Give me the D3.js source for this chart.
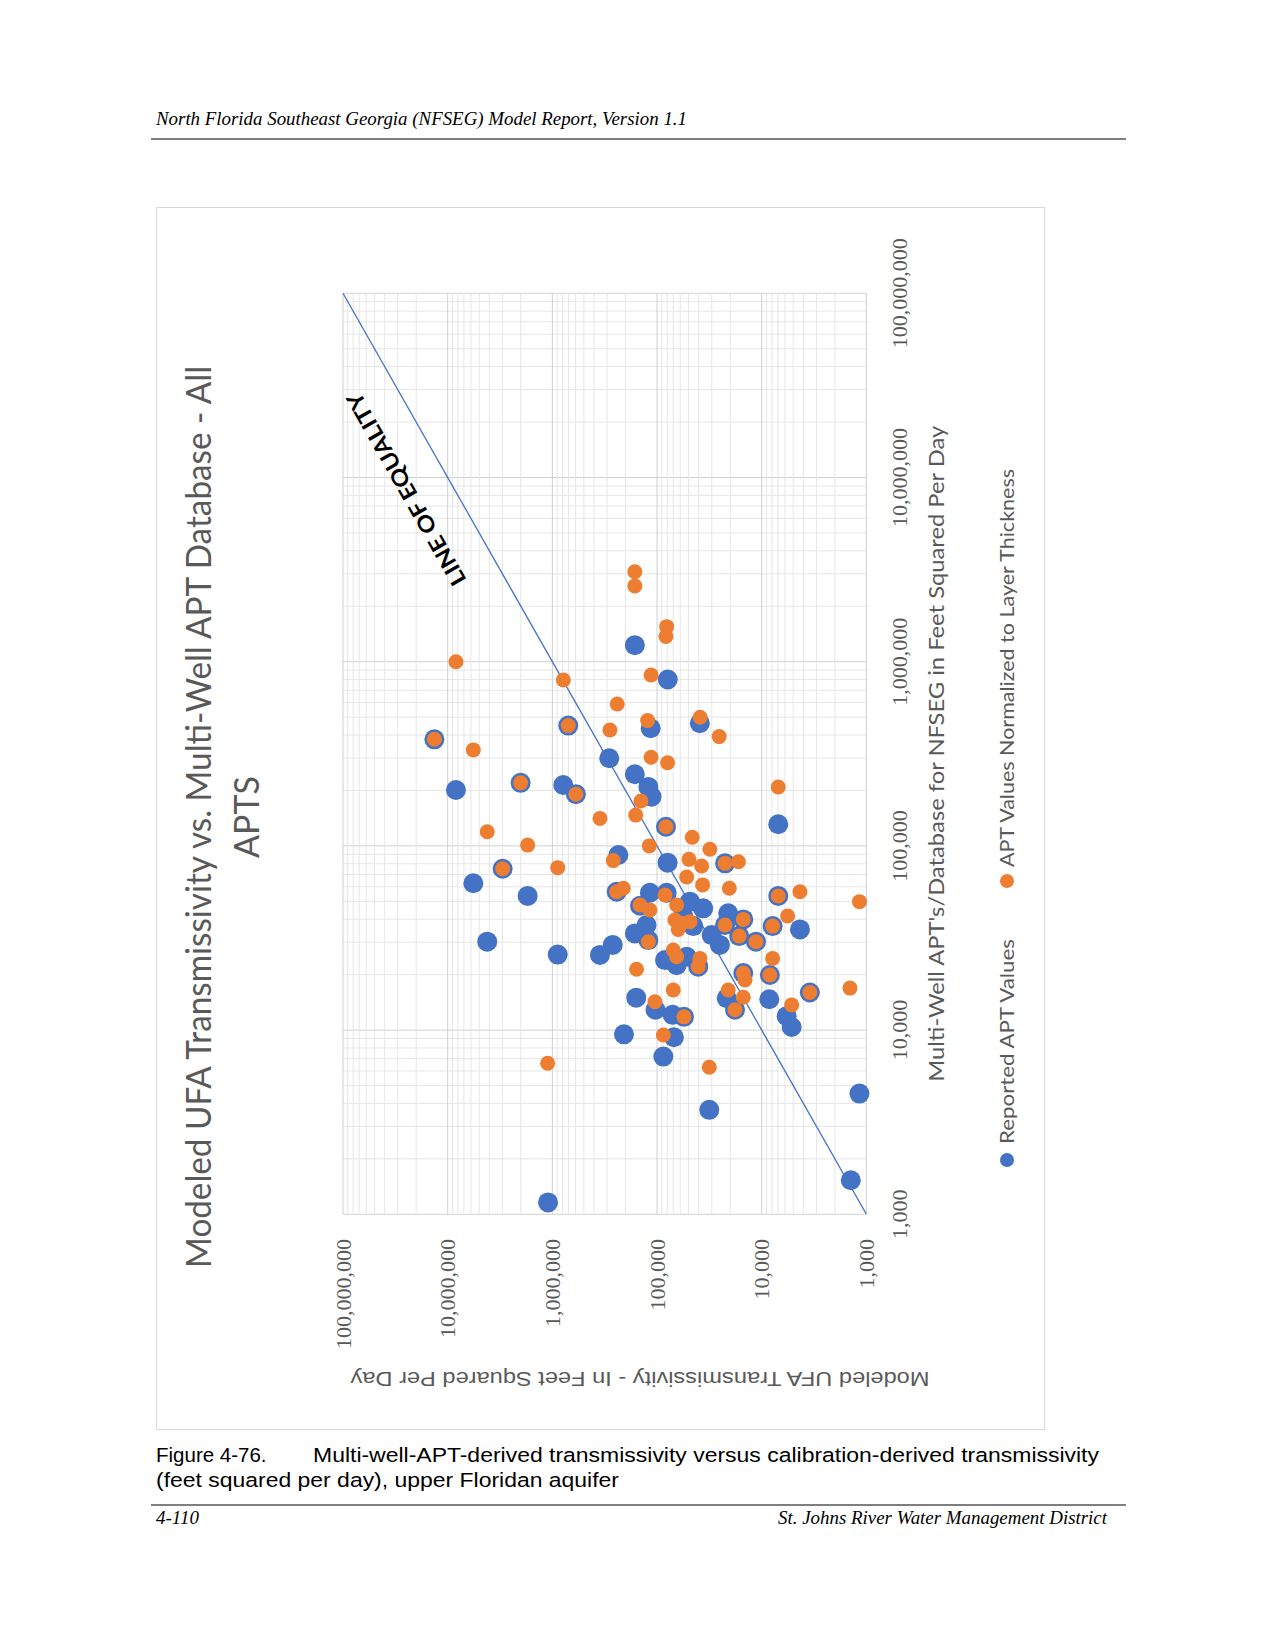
<!DOCTYPE html>
<html>
<head>
<meta charset="utf-8">
<script src="https://cdn.jsdelivr.net/npm/d3@7"></script>
<style>body{margin:0;background:#fff}</style>
</head>
<body>
<script>
// values, feet squared per day
// blue series: Reported APT Values  [APT value, modeled value] kept in two parallel lists
const reportedAPT = [1230000, 800000, 435000, 463000, 379000, 450000, 299000, 245000, 209000, 185000,
  201000, 220000, 214000, 191000, 131000, 127000, 89300, 81100, 80400, 75200,
  62700, 53500, 56400, 55700, 55700, 49800, 45800, 47300, 53500, 36700,
  35200, 43100, 39900, 37200, 41300, 36700, 37200, 33500, 30800, 32800,
  29000, 32400, 30200, 30200, 25700, 29000, 25600, 24000, 22500, 25000,
  22100, 20400, 19900, 16000, 15000, 12900, 12100, 11800, 14900, 12900,
  14700, 11900, 10400, 9480, 9140, 7180, 3690, 4520, 1530, 1160];
const reportedModeled = [163000, 79000, 115000, 39000, 13400000, 705000, 286000, 163000, 121000, 113000,
  8340000, 2010000, 787000, 596000, 6950, 82200, 234000, 79300, 22400, 2985000,
  5690000, 1722000, 243000, 117000, 80900, 48500, 36200, 145500, 6950, 7870,
  4315, 20900, 15000, 22400, 56200, 45100, 126000, 163000, 121000, 30100,
  25100, 16400, 11350, 4190000, 889000, 265000, 351000, 83900, 65000, 52100,
  40400, 15000, 8360, 3470, 158000, 103500, 71000, 55300, 21600, 18000,
  8470, 5780, 5180, 207000, 69000, 87100, 31700, 1165, 1410, 1100000];

// orange series: APT Values Normalized to Layer Thickness
const normalizedAPT = [3080000, 2580000, 1550000, 1370000, 1000000, 796000, 847000, 589000, 479000, 499000,
  379000, 450000, 426000, 392000, 332000, 303000, 283000, 220000, 191000, 175400,
  141000, 147000, 119400, 209000, 127000, 111400, 95900, 101000, 100000, 83200,
  84500, 77800, 80400, 82000, 75200, 76200, 67800, 61400, 58900, 56400,
  58900, 54100, 47800, 47800, 44900, 53500, 56400, 41600, 36700, 39900,
  37200, 39600, 38000, 38800, 35200, 30200, 32400, 30200, 27200, 21400,
  25000, 24500, 22100, 24500, 20400, 18700, 19900, 16000, 14260, 16500,
  11800, 16500, 15070, 12900, 13700, 9400, 6610, 6280, 49800, 16900];
const normalizedModeled = [163000, 163000, 80900, 82200, 8340000, 785000, 114000, 240000, 123000, 38800,
  13400000, 705000, 282000, 25500, 5690000, 114000, 79300, 2010000, 596000, 142600,
  351000, 160000, 4190000, 6950, 82200, 46100, 31300, 1722000, 118600, 262000,
  49500, 37500, 22400, 16700, 2985000, 889000, 52100, 36700, 20400, 243000,
  210000, 83900, 65000, 145500, 117000, 6950, 4315, 5660, 7870, 15000,
  22400, 67500, 58200, 48500, 62800, 121000, 16400, 11350, 70000, 157000,
  65000, 38900, 40400, 7870, 15000, 14450, 8360, 3470, 104700, 70000,
  55300, 20900, 15000, 18000, 5180, 87100, 1110000, 31700, 1165, 1435];

const tickValues = [1e3, 1e4, 1e5, 1e6, 1e7, 1e8];
const seriesNames = ["Reported APT Values", "APT Values Normalized to Layer Thickness"];
const seriesColors = ["#4472C4", "#ED7D31"];

const titleLines = ["Modeled UFA Transmissivity vs. Multi-Well APT Database - All", "APTS"];
const xTitle = "Multi-Well APT's/Database for NFSEG in Feet Squared Per Day";
const yTitle = "Modeled UFA Transmissivity  -  In Feet Squared Per Day";
const headerText = "North Florida Southeast Georgia (NFSEG) Model Report, Version 1.1";
const captionLabel = "Figure 4-76.";
const captionLines = ["Multi-well-APT-derived transmissivity versus calibration-derived transmissivity",
  "(feet squared per day), upper Floridan aquifer"];
const footerLeft = "4-110";
const footerRight = "St. Johns River Water Management District";

const [width, height] = [1275, 1651];
const fmt = d3.format(",");
const gray = "#595959";

const svg = d3.select("body").append("svg")
    .attr("xmlns", "http://www.w3.org/2000/svg")
    .attr("width", width)
    .attr("height", height)
    .attr("viewBox", [0, 0, width, height]);

svg.append("rect").attr("width", width).attr("height", height).attr("fill", "#fff");

// page header / footer
svg.append("text")
    .attr("x", 156).attr("y", 125)
    .attr("font-family", "Liberation Serif").attr("font-style", "italic").attr("font-size", 18)
    .attr("textLength", 531).attr("lengthAdjust", "spacingAndGlyphs")
    .text(headerText);
svg.append("line").attr("x1", 151).attr("x2", 1126).attr("y1", 139).attr("y2", 139)
    .attr("stroke", "#000").attr("stroke-width", 1.2);

const cap = svg.append("g").attr("font-family", "Liberation Sans").attr("font-size", 20.5).attr("fill", "#000");
cap.append("text").attr("x", 156).attr("y", 1462).text(captionLabel);
cap.append("text").attr("x", 313).attr("y", 1462)
    .attr("textLength", 786).attr("lengthAdjust", "spacingAndGlyphs").text(captionLines[0]);
cap.append("text").attr("x", 156).attr("y", 1487)
    .attr("textLength", 463).attr("lengthAdjust", "spacingAndGlyphs").text(captionLines[1]);

svg.append("line").attr("x1", 151).attr("x2", 1126).attr("y1", 1505).attr("y2", 1505)
    .attr("stroke", "#000").attr("stroke-width", 1.2);
const foot = svg.append("g").attr("font-family", "Liberation Serif").attr("font-style", "italic").attr("font-size", 19);
foot.append("text").attr("x", 156).attr("y", 1524).text(footerLeft);
foot.append("text").attr("x", 1107).attr("y", 1524).attr("text-anchor", "end")
    .attr("textLength", 329).attr("lengthAdjust", "spacingAndGlyphs").text(footerRight);

// chart box, the chart itself is turned a quarter turn counter-clockwise on the page
const [chartW, chartH] = [1222, 888];
svg.append("rect")
    .attr("x", 156.5).attr("y", 207.5).attr("width", chartH).attr("height", chartW)
    .attr("fill", "none").attr("stroke", "#d9d9d9");

const chart = svg.append("g").attr("transform", "translate(156,1429) rotate(-90)");

const plot = {left: 214.7, right: 1135.7, top: 187, bottom: 710.4};

const x = d3.scaleLog().domain([1e3, 1e8]).range([plot.left, plot.right]);
const y = d3.scaleLog().domain([1e3, 1e8]).range([plot.bottom, plot.top]);

const gridVals = d3.range(3, 8).flatMap(e => d3.range(1, 10).map(k => k * 10 ** e)).concat([1e8]);
const isMajor = v => Math.abs(Math.log10(v) - Math.round(Math.log10(v))) < 1e-9;
const gridOrder = gridVals.filter(v => !isMajor(v)).concat(gridVals.filter(isMajor));

const grid = chart.append("g").attr("stroke-width", 1);
grid.selectAll("line.gx")
    .data(gridOrder)
    .join("line")
        .attr("class", "gx")
        .attr("x1", d => x(d)).attr("x2", d => x(d))
        .attr("y1", plot.top).attr("y2", plot.bottom)
        .attr("stroke", d => isMajor(d) ? "#d0d0d0" : "#e6e6e6");
grid.selectAll("line.gy")
    .data(gridOrder)
    .join("line")
        .attr("class", "gy")
        .attr("y1", d => y(d)).attr("y2", d => y(d))
        .attr("x1", plot.left).attr("x2", plot.right)
        .attr("stroke", d => isMajor(d) ? "#d0d0d0" : "#e6e6e6");

// axes labels
chart.append("g")
    .attr("font-family", "Liberation Serif").attr("font-size", 22).attr("fill", gray)
    .attr("text-anchor", "middle")
    .selectAll("text").data(tickValues).join("text")
        .attr("x", d => x(d)).attr("y", 751)
        .text(d => fmt(d));
chart.append("g")
    .attr("font-family", "Liberation Serif").attr("font-size", 22).attr("fill", gray)
    .attr("text-anchor", "end")
    .selectAll("text").data(tickValues).join("text")
        .attr("x", 190).attr("y", d => y(d)).attr("dy", "0.35em")
        .text(d => fmt(d));

chart.append("text")
    .attr("x", (plot.left + plot.right) / 2).attr("y", 788)
    .attr("text-anchor", "middle").attr("font-family", "Lato").attr("font-size", 22).attr("fill", gray)
    .attr("textLength", 656).attr("lengthAdjust", "spacingAndGlyphs")
    .text(xTitle);

chart.append("text")
    .attr("transform", `translate(57,484) rotate(-90)`)
    .attr("text-anchor", "middle").attr("font-family", "Liberation Sans").attr("font-size", 21).attr("fill", gray)
    .attr("textLength", 579).attr("lengthAdjust", "spacingAndGlyphs")
    .text(yTitle);

// title
chart.append("text")
    .attr("x", 612).attr("y", 55)
    .attr("text-anchor", "middle").attr("font-family", "Lato")
    .attr("font-size", 34).attr("fill", gray)
    .attr("textLength", 902).attr("lengthAdjust", "spacingAndGlyphs")
    .text(titleLines[0]);
chart.append("text")
    .attr("x", 612).attr("y", 103)
    .attr("text-anchor", "middle").attr("font-family", "Lato")
    .attr("font-size", 34).attr("fill", gray)
    .text(titleLines[1]);

// line of equality
chart.append("line")
    .attr("x1", x(1e3)).attr("y1", y(1e3))
    .attr("x2", x(1e8)).attr("y2", y(1e8))
    .attr("stroke", "#4472C4").attr("stroke-width", 1.3);
const ang = Math.atan2(y(1e8) - y(1e3), x(1e8) - x(1e3)) * 180 / Math.PI;
chart.append("text")
    .attr("transform", `translate(849,311) rotate(${ang})`)
    .attr("font-family", "Lato").attr("font-weight", 700).attr("font-size", 22).attr("fill", "#000")
    .attr("textLength", 218).attr("lengthAdjust", "spacingAndGlyphs")
    .text("LINE OF EQUALITY");

// points: blue first, orange on top
const series = [
    d3.zip(reportedAPT, reportedModeled),
    d3.zip(normalizedAPT, normalizedModeled)
];
const radius = [10, 7.5];

series.forEach((pts, i) => {
    chart.append("g")
        .attr("fill", seriesColors[i])
        .selectAll("circle").data(pts).join("circle")
            .attr("cx", d => x(d[0]))
            .attr("cy", d => y(d[1]))
            .attr("r", radius[i]);
});

// legend
const legend = chart.append("g").attr("font-family", "Lato").attr("font-size", 20).attr("fill", gray);
const legendPos = [{cx: 269, tx: 285, len: 205}, {cx: 548, tx: 562, len: 398}];
legendPos.forEach((p, i) => {
    legend.append("circle").attr("cx", p.cx).attr("cy", 851).attr("r", 7).attr("fill", seriesColors[i]);
    legend.append("text").attr("x", p.tx).attr("y", 858)
        .attr("textLength", p.len).attr("lengthAdjust", "spacingAndGlyphs")
        .text(seriesNames[i]);
});
</script>
</body>
</html>
